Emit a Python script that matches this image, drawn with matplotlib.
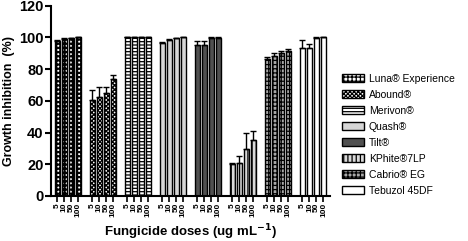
import numpy as np
import matplotlib.pyplot as plt
from matplotlib.patches import Patch

plt.rcParams['font.family'] = ['Liberation Sans', 'DejaVu Sans']
plt.rcParams['hatch.linewidth'] = 0.9

products = ["Luna® Experience", "Abound®", "Merivon®", "Quash®", "Tilt®",
            "KPhite®7LP", "Cabrio® EG", "Tebuzol 45DF"]
doses = ["5", "10", "50", "100"]

means = [
    [98.0, 99.0, 99.5, 100.0],
    [60.6, 62.5, 64.8, 73.8],
    [100.0, 100.0, 100.0, 100.0],
    [96.4, 98.4, 99.6, 100.0],
    [95.5, 95.0, 99.8, 99.8],
    [20.3, 21.0, 29.5, 35.0],
    [86.3, 88.3, 90.0, 91.5],
    [93.2, 93.6, 99.8, 100.0],
]
errs = [
    [0.6, 0.4, 0.3, 0.2],
    [6.3, 6.5, 3.8, 2.4],
    [0.3, 0.3, 0.3, 0.3],
    [0.8, 0.8, 0.3, 0.2],
    [2.0, 2.8, 0.3, 0.3],
    [0.6, 4.5, 10.0, 6.0],
    [1.2, 2.2, 1.4, 1.2],
    [5.0, 2.2, 0.3, 0.2],
]

faces = ["white", "white", "white", "#d6d6d6", "#505050", "#d9d9d9", "#a8a8a8", "white"]
hatches = ["++++", "xxxxxxxx", "-----", None, None, "||||", "++++", None]
hatch_lw = [1.6, 0.9, 0.9, 0.9, 0.9, 0.9, 0.9, 0.9]

fig = plt.figure(figsize=(4.68, 2.41), dpi=100)
ax = fig.add_axes([0.108, 0.187, 0.597, 0.789])

positions = []
handles = []
for g in range(len(products)):
    x = g * 5 + np.arange(len(doses))
    positions.extend(x)
    lo = np.zeros(len(doses))
    with plt.rc_context({'hatch.linewidth': hatch_lw[g]}):
        ax.bar(x, means[g], width=0.75, color=faces[g], edgecolor="black",
               linewidth=1.0, hatch=hatches[g], zorder=2)
        handles.append(Patch(facecolor=faces[g], edgecolor="black",
                             hatch=hatches[g], linewidth=1.0))
    ax.errorbar(x, means[g], yerr=[lo, errs[g]], fmt="none", ecolor="black",
                elinewidth=1.0, capsize=2, capthick=1.0, zorder=3)

ax.set_xticks(positions)
ax.set_xticklabels(doses * len(products), rotation=90, fontsize=6, fontweight="bold")
ax.set_xlim(-0.97, 38.93)
ax.set_ylim(0, 120)
ax.set_yticks(range(0, 121, 20))
for t in ax.get_yticklabels():
    t.set_fontweight("bold")
    t.set_fontsize(10.5)

ax.spines["top"].set_visible(False)
ax.spines["right"].set_visible(False)
ax.spines["left"].set_linewidth(1.5)
ax.spines["bottom"].set_linewidth(1.5)
ax.tick_params(axis="y", width=1.5, length=4, pad=1)
ax.tick_params(axis="x", width=1.2, length=4, pad=1)

ax.set_ylabel("Growth inhibition  (%)", fontsize=9, fontweight="bold", labelpad=3)
ax.set_xlabel("Fungicide doses (ug mL$^{\\mathbf{-1}}$)", fontsize=9.5, fontweight="bold", labelpad=4)

fig.legend(handles, products, loc="upper left", bbox_to_anchor=(0.722, 0.712),
           frameon=False, fontsize=7.5, handlelength=2.1, handleheight=0.75,
           labelspacing=0.58, handletextpad=0.45, borderaxespad=0)

fig.savefig("out.png", dpi=100)
